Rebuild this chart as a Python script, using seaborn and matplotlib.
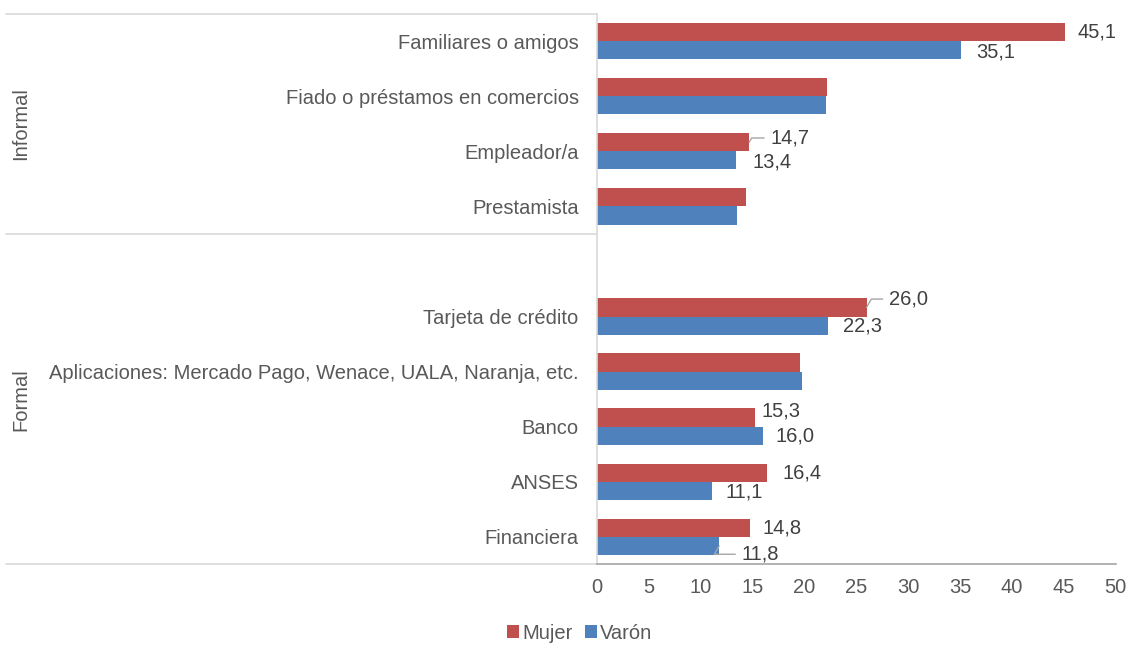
import pandas as pd
import matplotlib.pyplot as plt
import seaborn as sns
from matplotlib.patches import Patch

# categories (top to bottom), with an empty slot between the two groups
informal = ["Familiares o amigos", "Fiado o préstamos en comercios", "Empleador/a", "Prestamista"]
formal = ["Tarjeta de crédito", "Aplicaciones: Mercado Pago, Wenace, UALA, Naranja, etc.",
          "Banco", "ANSES", "Financiera"]
order = informal + [""] + formal

mujer = [45.1, 22.2, 14.7, 14.4, 26.0, 19.6, 15.3, 16.4, 14.8]
varon = [35.1, 22.1, 13.4, 13.5, 22.3, 19.8, 16.0, 11.1, 11.8]
series = ["Mujer", "Varón"]
x_ticks = [0, 5, 10, 15, 20, 25, 30, 35, 40, 45, 50]

# which bars carry a value label
labelled = ["Familiares o amigos", "Empleador/a", "Tarjeta de crédito", "Banco", "ANSES", "Financiera"]

cats = informal + formal
df = pd.DataFrame({
    "Fuente": cats * 2,
    "Sexo": ["Mujer"] * len(cats) + ["Varón"] * len(cats),
    "Porcentaje": mujer + varon,
})

colors = {"Mujer": "#C0504D", "Varón": "#4F81BD"}
text_col = "#595959"
fs = 14.5

sns.set_theme(style="white")
plt.rcParams["font.family"] = ["Liberation Sans", "DejaVu Sans"]

fig = plt.figure(figsize=(11.28, 6.45), dpi=100)
ax = fig.add_axes([0.529, 0.125, 0.460, 0.854])

sns.barplot(data=df, y="Fuente", x="Porcentaje", hue="Sexo", order=order,
            hue_order=series, palette=colors, width=0.66, orient="h",
            saturation=1, linewidth=0, ax=ax, legend=False)

ax.set_xlim(0, 50)
ax.set_ylim(len(order) - 0.5, -0.5)
ax.set_xticks(x_ticks)
ax.set_xticklabels([str(t) for t in x_ticks])
ax.set_xlabel("")
ax.set_ylabel("")
ax.tick_params(axis="x", length=0, pad=10, labelsize=fs, labelcolor=text_col)
ax.tick_params(axis="y", length=0, pad=13, labelsize=fs, labelcolor=text_col)

for side in ["top", "right"]:
    ax.spines[side].set_visible(False)
ax.spines["left"].set_color("#D9D9D9")
ax.spines["left"].set_linewidth(1.2)
ax.spines["bottom"].set_color("#A6A6A6")
ax.spines["bottom"].set_linewidth(1.2)

# multi-level axis lines on the left
tr = ax.get_yaxis_transform()
x_left = -1.139
for y in [-0.5, len(informal) - 0.5, len(order) - 0.5]:
    ax.plot([x_left, 0], [y, y], color="#D9D9D9", lw=1.2, transform=tr, clip_on=False)

ax.text(-1.110, (len(informal) - 1) / 2, "Informal", rotation=90, ha="center", va="center",
        fontsize=fs, color=text_col, transform=tr)
ax.text(-1.110, (len(informal) + len(order) - 1) / 2, "Formal", rotation=90, ha="center",
        va="center", fontsize=fs, color=text_col, transform=tr)

# label offsets in points (dx, dy) and whether a leader line is drawn
offsets = {
    ("Familiares o amigos", "Mujer"): (9, 0, False),
    ("Familiares o amigos", "Varón"): (11, -1, False),
    ("Empleador/a", "Mujer"): (15, 3, True),
    ("Empleador/a", "Varón"): (12, -1, False),
    ("Tarjeta de crédito", "Mujer"): (16, 6, True),
    ("Tarjeta de crédito", "Varón"): (11, 0, False),
    ("Banco", "Mujer"): (4, 5, False),
    ("Banco", "Varón"): (9, 0, False),
    ("ANSES", "Mujer"): (11, 0, False),
    ("ANSES", "Varón"): (10, -1, False),
    ("Financiera", "Mujer"): (9, 0, False),
    ("Financiera", "Varón"): (16, -6, True),
}

for container, sexo in zip(ax.containers, series):
    for bar in container:
        yc = bar.get_y() + bar.get_height() / 2
        cat = order[int(round(yc))]
        if cat not in labelled:
            continue
        val = bar.get_width()
        dx, dy, leader = offsets[(cat, sexo)]
        label = f"{val:.1f}".replace(".", ",")
        props = None
        if leader:
            props = dict(arrowstyle="-", color="#A6A6A6", lw=1,
                         connectionstyle="angle,angleA=0,angleB=60,rad=0",
                         shrinkA=2, shrinkB=0)
        ax.annotate(label, xy=(val, yc), xytext=(dx, dy), textcoords="offset points",
                    ha="left", va="center", fontsize=fs, color="#404040",
                    arrowprops=props, annotation_clip=False)

handles = [Patch(facecolor=colors[s], edgecolor="none", label=s) for s in series]
fig.legend(handles=handles, loc="center", bbox_to_anchor=(0.514, 0.018), ncol=2,
           frameon=False, fontsize=fs, handlelength=0.6, handleheight=0.6,
           handletextpad=0.15, columnspacing=0.6, labelcolor=text_col)

fig.savefig("out.png", dpi=100)
